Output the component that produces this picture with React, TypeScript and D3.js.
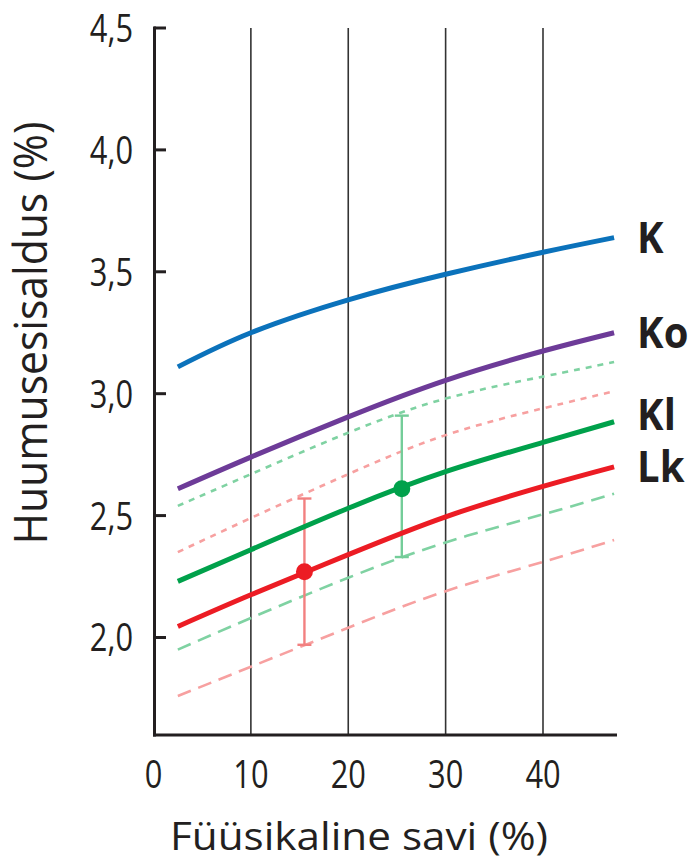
import React from "react";
import * as d3 from "d3";

const width = 693;
const height = 861;

// savi (%) sample points of the curves
const xs = [2.5, 10, 20, 30, 40, 47.3];
const kValues = [3.11, 3.25, 3.385, 3.49, 3.58, 3.64];
const koValues = [2.61, 2.74, 2.905, 3.055, 3.175, 3.25];
const klValues = [2.23, 2.36, 2.53, 2.68, 2.8, 2.885];
const lkValues = [2.045, 2.175, 2.34, 2.495, 2.62, 2.7];
const klUpper = [2.54, 2.67, 2.84, 2.98, 3.07, 3.13];
const lkUpper = [2.35, 2.49, 2.67, 2.83, 2.94, 3.01];
const klLower = [1.95, 2.08, 2.245, 2.39, 2.505, 2.59];
const lkLower = [1.76, 1.88, 2.04, 2.19, 2.31, 2.4];

const seriesNames = ["K", "Ko", "Kl", "Lk"];

// mean with error bar
const errX = [15.5, 25.5];
const errMean = [2.27, 2.61];
const errLo = [1.97, 2.33];
const errHi = [2.57, 2.91];

const xTicks = [0, 10, 20, 30, 40];
const yTicks = [2.0, 2.5, 3.0, 3.5, 4.0, 4.5];

const xTitle = "Füüsikaline savi (%)";
const yTitle = "Huumusesisaldus (%)";

const colors: Record<string, string> = {
  K: "#0b72bb",
  Ko: "#6d3b98",
  Kl: "#00a14b",
  Lk: "#ec1c24",
};
const lightGreen = "#7fd2a2";
const lightRed = "#f7a0a0";
const ink = "#231f20";
const font = "'Open Sans', sans-serif";

export default function App() {
  const x = d3.scaleLinear().domain([0, 47.6]).range([153.5, 617]);
  const y = d3.scaleLinear().domain([1.6, 4.5]).range([735, 28]);

  const line = (vals: number[]) =>
    d3
      .line<number>()
      .x((_, i) => x(xs[i]))
      .y((v) => y(v))
      .curve(d3.curveNatural)(vals) || "";

  const solid = [kValues, koValues, klValues, lkValues];
  const labelNudge = [0, 0, -7, 0];

  return (
    <svg
      width={width}
      height={height}
      style={{ position: "absolute", left: 0, top: 0, background: "#fff" }}
    >
      {/* vertical grid */}
      {xTicks.slice(1).map((t) => (
        <line key={t} x1={x(t)} x2={x(t)} y1={y(4.5)} y2={735} stroke="#333" strokeWidth={1.6} />
      ))}

      {/* bands */}
      <path d={line(klUpper)} fill="none" stroke={lightGreen} strokeWidth={2.6} strokeDasharray="6 6" />
      <path d={line(lkUpper)} fill="none" stroke={lightRed} strokeWidth={2.6} strokeDasharray="6 6" />
      <path d={line(klLower)} fill="none" stroke={lightGreen} strokeWidth={2.6} strokeDasharray="14 8" />
      <path d={line(lkLower)} fill="none" stroke={lightRed} strokeWidth={2.6} strokeDasharray="14 8" />

      {/* error bars */}
      {errX.map((ex, i) => {
        const c = i === 0 ? "#f28080" : "#74cd99";
        return (
          <g key={ex} stroke={c} strokeWidth={2.4}>
            <line x1={x(ex)} x2={x(ex)} y1={y(errLo[i])} y2={y(errHi[i])} />
            <line x1={x(ex) - 7} x2={x(ex) + 7} y1={y(errLo[i])} y2={y(errLo[i])} />
            <line x1={x(ex) - 7} x2={x(ex) + 7} y1={y(errHi[i])} y2={y(errHi[i])} />
          </g>
        );
      })}

      {/* main curves */}
      {solid.map((vals, i) => (
        <path
          key={seriesNames[i]}
          d={line(vals)}
          fill="none"
          stroke={colors[seriesNames[i]]}
          strokeWidth={5}
        />
      ))}

      {errX.map((ex, i) => (
        <circle key={ex} cx={x(ex)} cy={y(errMean[i])} r={8.5} fill={i === 0 ? colors.Lk : colors.Kl} />
      ))}

      {/* series labels */}
      {solid.map((vals, i) => (
        <text
          key={seriesNames[i]}
          transform={`translate(${x(xs[xs.length - 1]) + 23},${
            y(vals[vals.length - 1]) + 15 + labelNudge[i]
          }) scale(0.93,1)`}
          fontFamily={font}
          fontWeight="bold"
          fontSize={43}
          fill={ink}
        >
          {seriesNames[i]}
        </text>
      ))}

      {/* axes */}
      <line x1={154.5} x2={154.5} y1={26.5} y2={736.5} stroke={ink} strokeWidth={3} />
      <line x1={153} x2={617} y1={735} y2={735} stroke={ink} strokeWidth={3} />
      {yTicks.map((t) => (
        <line key={t} x1={154} x2={166} y1={y(t)} y2={y(t)} stroke={ink} strokeWidth={3} />
      ))}

      {yTicks.map((t) => (
        <text
          key={t}
          transform={`translate(133,${y(t) + 14}) scale(0.79,1)`}
          textAnchor="end"
          fontFamily={font}
          fontSize={39}
          fill={ink}
        >
          {t.toFixed(1).replace(".", ",")}
        </text>
      ))}
      {xTicks.map((t) => (
        <text
          key={t}
          transform={`translate(${x(t)},788) scale(0.79,1)`}
          textAnchor="middle"
          fontFamily={font}
          fontSize={39}
          fill={ink}
        >
          {t}
        </text>
      ))}

      <text
        x={359}
        y={850}
        textAnchor="middle"
        fontFamily={font}
        fontSize={39}
        textLength={378}
        lengthAdjust="spacingAndGlyphs"
        fill={ink}
      >
        {xTitle}
      </text>
      <text
        transform="translate(47,333) rotate(-90) scale(1,1.25)"
        textAnchor="middle"
        fontFamily={font}
        fontSize={36}
        textLength={423}
        lengthAdjust="spacingAndGlyphs"
        fill={ink}
      >
        {yTitle}
      </text>
    </svg>
  );
}
